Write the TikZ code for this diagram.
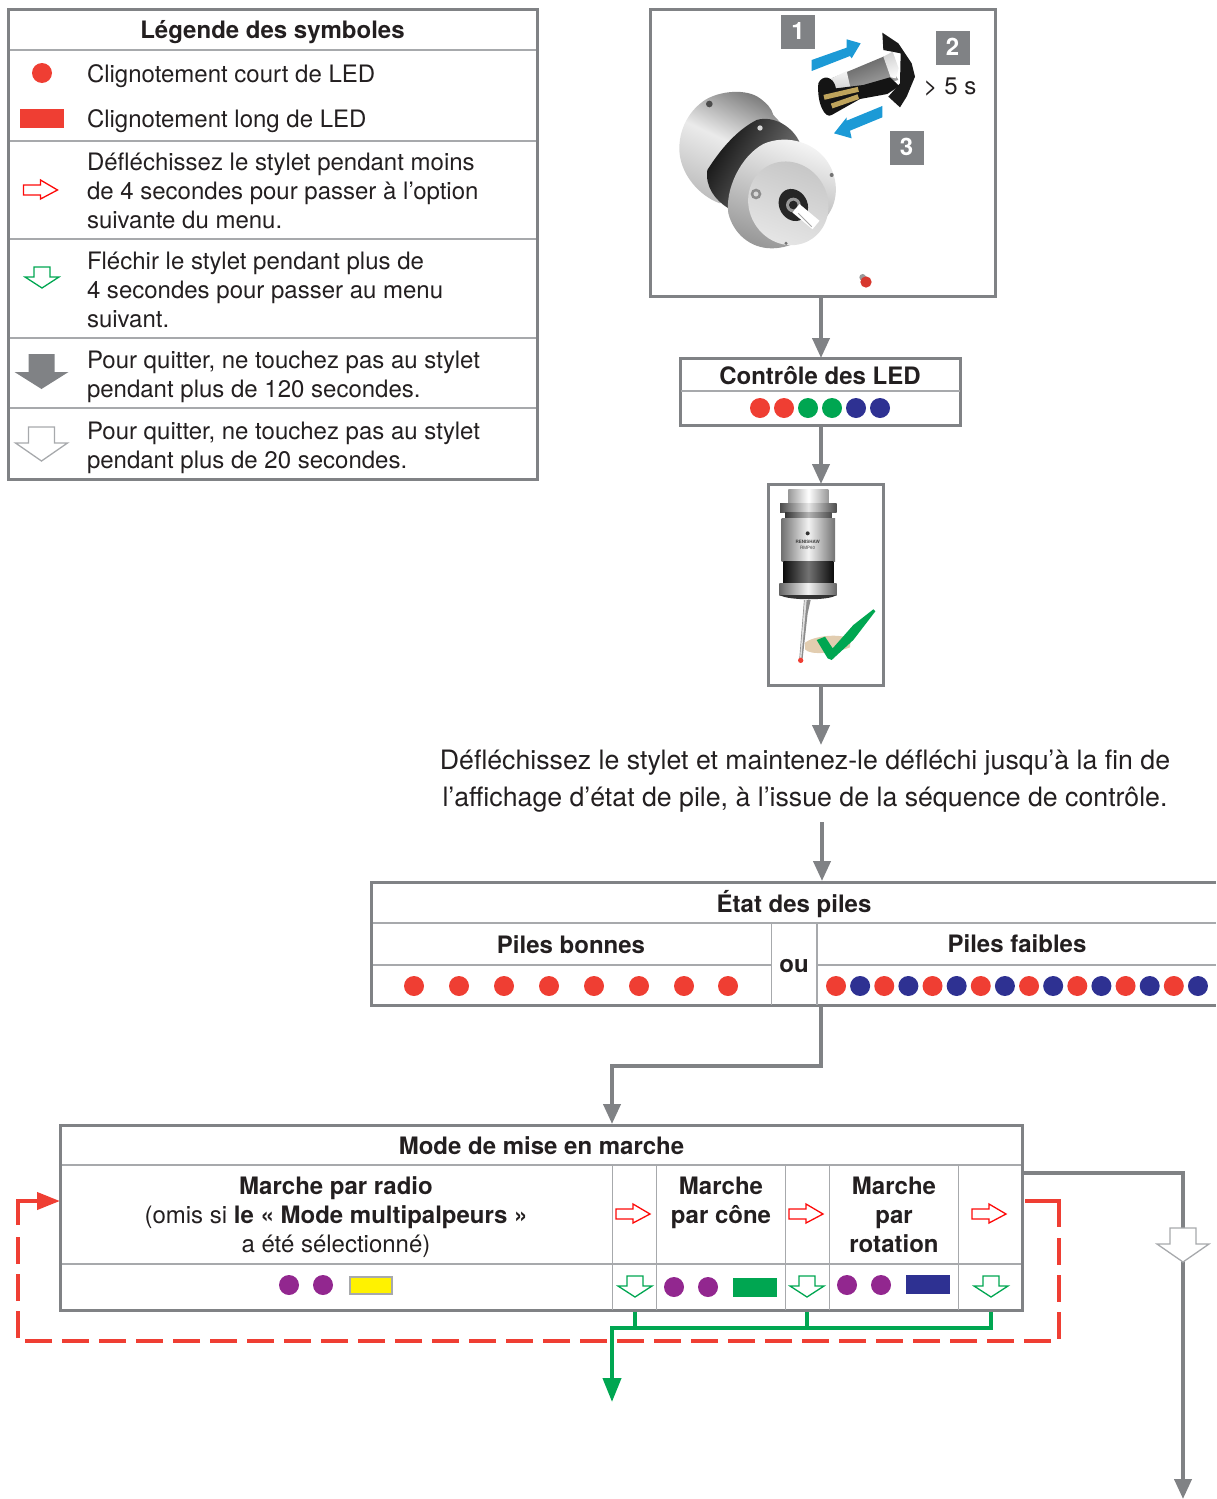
\documentclass[tikz,border=0pt]{standalone}
\usepackage{fontspec}
\setmainfont{TeX Gyre Heros}
\usetikzlibrary{arrows.meta,calc}
\definecolor{ink}{HTML}{231F20}
\definecolor{frameg}{HTML}{808285}
\definecolor{ruleg}{HTML}{A7A9AC}
\definecolor{ledred}{HTML}{EF3E33}
\definecolor{ledgreen}{HTML}{00A651}
\definecolor{ledblue}{HTML}{2E3192}
\definecolor{ledpurple}{HTML}{92278F}
\definecolor{ledyellow}{HTML}{FFF200}
\definecolor{tipblue}{HTML}{1C9AD6}
\definecolor{tagg}{HTML}{808285}
\definecolor{gold}{HTML}{BFA45C}
\definecolor{skin}{HTML}{E2CDB0}
\tikzset{
  x=1pt,y=-1pt,
  every node/.style={inner sep=0pt,outer sep=0pt,text=ink},
  txt/.style={font=\fontsize{24}{29}\selectfont,align=left,anchor=west},
  ctr/.style={font=\fontsize{24}{29}\selectfont,align=center,anchor=center},
  hd/.style={font=\fontsize{24}{29}\selectfont\bfseries,align=center,anchor=center},
  framebox/.style={draw=frameg,line width=3pt,anchor=north west},
  gridl/.style={draw=ruleg,line width=1.6pt},
  flow/.style={draw=frameg,line width=4pt,-{Triangle[length=20pt,width=17pt]}},
  gline/.style={draw=ledgreen,line width=4pt},
  rline/.style={draw=ledred,line width=4pt},
  dot/.style={circle,minimum size=20pt,fill=#1},
  tag/.style={fill=tagg,minimum width=34pt,minimum height=34pt,text=white,font=\fontsize{24}{24}\selectfont\bfseries},
  redarrow/.pic={\path[draw=red!85!ledred,fill=white,line width=1.3pt] (-17,-5)--(0,-5)--(0,-10)--(17,0)--(0,9)--(0,5)--(-17,5)--cycle;},
  greenarrow/.pic={\path[draw=ledgreen,fill=white,line width=1.3pt] (-8,0)--(8,0)--(8,10)--(17,10)--(0,21)--(-17,10)--(-8,10)--cycle;},
  greyarrow/.pic={\path[fill=frameg] (-13,0)--(13,0)--(13,18)--(27,18)--(0,35)--(-27,18)--(-13,18)--cycle;},
  whitearrow/.pic={\path[draw=ruleg,fill=white,line width=1.3pt] (-13,0)--(13,0)--(13,16)--(26,16)--(0,34)--(-26,16)--(-13,16)--cycle;},
}
\begin{document}
\begin{tikzpicture}
\useasboundingbox (0,0) rectangle (1216,1499);
% ---------- legend
\node[framebox,minimum width=529.5pt,minimum height=470.5pt] (legend) at (8,9) {};
\foreach \y in {50,141,239,338,408} \draw[gridl] (9.5,\y)--(536,\y);
\node[hd] (legtitle) at (272.5,32) {Légende des symboles};
\node[dot=ledred] (legdot) at (42,73) {};
\node[fill=ledred,minimum width=44pt,minimum height=19pt] (legrect) at (42,118.5) {};
\node[txt] (leg1) at (87,76) {Clignotement court de LED};
\node[txt] (leg2) at (87,121) {Clignotement long de LED};
\node[txt] (leg3) at (87,191) {Défléchissez le stylet pendant moins\\de 4 secondes pour passer à l’option\\suivante du menu.};
\node[txt] (leg4) at (87,290) {Fléchir le stylet pendant plus de\\4 secondes pour passer au menu\\suivant.};
\node[txt] (leg5) at (87,377) {Pour quitter, ne touchez pas au stylet\\pendant plus de 120 secondes.};
\node[txt] (leg6) at (87,448) {Pour quitter, ne touchez pas au stylet\\pendant plus de 20 secondes.};
\pic at (40.5,190) {redarrow};
\pic at (42,267) {greenarrow};
\pic at (41.5,354) {greyarrow};
\pic at (41.5,427) {whitearrow};
% ---------- battery photo
\node[framebox,minimum width=345.5pt,minimum height=287.5pt] (photo) at (650,9) {};
\begin{scope}[shift={(650,0)},x=0.333333pt,y=-0.333333pt]
  % back body
  \path[left color=black!55,right color=black!25,middle color=black!8,shading angle=-25]
    (165,300) .. controls (210,272) and (290,265) .. (330,295) .. controls (350,310) and (365,325) .. (370,345) -- (440,420) -- (210,610)
    .. controls (150,590) and (85,520) .. (88,440) .. controls (90,380) and (120,330) .. (165,300) -- cycle;
  \fill[black!70] (178,312) circle (10);
  % band
  \path[left color=black!95,right color=black!50,shading angle=60]
    (320,360) .. controls (370,345) and (430,380) .. (450,430) -- (235,625)
    .. controls (195,600) and (165,560) .. (172,510) .. controls (210,450) and (260,390) .. (320,360) -- cycle;
  \fill[black!15] (330,384) circle (8);
  % front cap
  \path[top color=black!3,bottom color=black!40,shading angle=-20]
    (340,432) .. controls (400,405) and (480,420) .. (525,475) .. controls (565,525) and (570,600) .. (530,650)
    .. controls (490,705) and (430,745) .. (365,745) .. controls (300,745) and (250,700) .. (235,640)
    .. controls (225,570) and (270,470) .. (340,432) -- cycle;
  \path[top color=black!22,bottom color=black!10,shading angle=-20,rotate around={30:(415,610)}] (415,610) ellipse (118 and 128);
  \draw[black!45,line width=2.5pt] (318,582) circle (12);
  \fill[black!55] (545,525) circle (6);
  \fill[black!55] (408,730) circle (5);
  \fill[black!85,rotate around={30:(430,615)}] (430,615) ellipse (42 and 50);
  \fill[black!40] (430,615) circle (22);
  \fill[black!85] (430,615) circle (13);
  \draw[white,line width=11pt] (438,625)--(498,675);
  \draw[black!35,line width=1pt] (445,640)--(485,680);
  % LED
  \fill[black!40] (638,832) circle (10);
  \fill[ledred!90!black] (648,846) circle (17);
  % blue arrows
  \fill[tipblue] (485,180)--(590,143)--(590,118)--(632,130)--(605,175)--(600,168)--(485,213)--cycle;
  \fill[tipblue] (697,318)--(697,352)--(600,392)--(605,415)--(552,400)--(590,352)--(590,362)--cycle;
  % battery
  \fill[black!90] (697,98)--(745,130)--(785,190)--(795,230)--(770,290)--(750,322)--(715,290)--(750,250)--(752,160)--(700,150)--cycle;
  \path[left color=black!65,right color=black!30,shading angle=20] (545,235)--(705,168)--(745,240)--(572,290)--cycle;
  \path[left color=black!18,right color=black!2,shading angle=20] (700,170)--(728,155)--(746,205)--(738,235)--(722,232)--cycle;
  \path[top color=black!4,bottom color=black!22] (545,235)--(590,213)--(605,280)--(570,288)--cycle;
  \fill[black!92] (505,250) .. controls (515,225) and (550,225) .. (558,265) -- (640,255) -- (720,232) -- (748,258) -- (712,282) -- (630,297) -- (545,345)
     .. controls (525,358) and (500,310) .. (505,250) -- cycle;
  \draw[gold,line width=5pt] (522,292)--(625,268);
  \draw[gold,line width=5pt] (545,318)--(625,290);
\end{scope}
\node[tag] (t1) at (798,32) {\raisebox{1.5pt}{1}};
\node[tag] (t2) at (952.5,47.5) {\raisebox{1.5pt}{2}};
\node[tag] (t3) at (906.5,147.5) {\raisebox{1.5pt}{3}};
\node[ctr] (gt5) at (950,87) {> 5 s};
% ---------- LED check
\node[framebox,minimum width=280.5pt,minimum height=67.5pt] (ctrl) at (680,358) {};
\draw[gridl] (681,391)--(960,391);
\node[hd] (ctrlt) at (820,376) {Contrôle des LED};
\foreach \x/\c [count=\i] in {760/ledred,784/ledred,808/ledgreen,832/ledgreen,856/ledblue,880/ledblue}
  \node[dot=\c] (cd\i) at (\x,408) {};
% ---------- probe photo
\node[framebox,minimum width=115.5pt,minimum height=201.5pt] (probe) at (768,484) {};
\begin{scope}[shift={(760,480)},x=0.333333pt,y=-0.333333pt]
  \path[left color=black!40,right color=black!40,middle color=white] (85,28)--(205,28)--(205,72)--(85,72)--cycle;
  \path[left color=black!70,right color=black!70,middle color=black!10] (60,70) rectangle (230,97);
  \path[left color=black!80,right color=black!70,middle color=black!30] (75,97) rectangle (215,116);
  \path[left color=black!55,right color=black!55,middle color=black!5] (65,116) rectangle (225,245);
  \fill[black!80] (143,160) circle (6);
  \path[left color=black!95,right color=black!95,middle color=black!55] (70,245) rectangle (220,310);
  \path[left color=black!60,right color=black!60,middle color=black!5] (58,310) rectangle (230,345);
  \fill[black!80] (60,345) -- (228,345) .. controls (215,362) and (80,362) .. (60,345) -- cycle;
  \node[font=\fontsize{4.5}{5}\selectfont\bfseries,text=black!75] (ren) at (143,187) {RENISHAW};
  \node[font=\fontsize{4.5}{5}\selectfont,text=black!75] (rmp) at (143,205) {RMP60};
  \fill[black!45] (132,360)--(152,360)--(143,400)--(128,535)--(118,535)--cycle;
  \fill[black!12] (134,360)--(140,360)--(124,535)--(120,535)--cycle;
  \fill[skin] (135,488) .. controls (160,468) and (240,458) .. (272,478) -- (270,502) .. controls (230,518) and (150,528) .. (135,508) -- cycle;
  \fill[ledred] (122,541) circle (8);
  \fill[ledgreen] (170,480)--(195,470)--(218,505)--(280,435)--(340,388)--(346,394)--(280,480)--(215,540)--(203,535)--cycle;
\end{scope}
% ---------- instruction
\node[ctr,font=\fontsize{26.7}{37}\selectfont] (instr) at (805,781) {Défléchissez le stylet et maintenez-le défléchi jusqu’à la fin de\\l’affichage d’état de pile, à l’issue de la séquence de contrôle.};
% ---------- battery state
\node[anchor=north west,minimum width=845pt,minimum height=123.5pt] (etat) at (371,882) {};
\draw[draw=frameg,line width=3pt] (1216,882)--(etat.north west)--(etat.south west)--(1216,1005.5);
\draw[gridl] (372.5,923)--(1216,923);
\draw[gridl] (372.5,965)--(771,965);
\draw[gridl] (817,965)--(1216,965);
\draw[gridl] (771.5,923)--(771.5,1005);
\draw[gridl] (817,923)--(817,1005);
\node[hd] (etatt) at (794,904) {État des piles};
\node[hd] (pb) at (571,945) {Piles bonnes};
\node[hd] (ou) at (794,966) {ou};
\node[hd] (pf) at (1017,944) {Piles faibles};
\foreach \x [count=\i] in {414,459,504,549,594,639,684,728} \node[dot=ledred] (g\i) at (\x,986) {};
\foreach \i in {0,...,15}{
  \pgfmathtruncatemacro{\dotodd}{mod(\i,2)}
  \ifnum\dotodd=0 \def\cc{ledred}\else\def\cc{ledblue}\fi
  \node[dot=\cc] (f\i) at ({836+\i*24.13},986) {};
}
% ---------- power-on mode
\node[framebox,minimum width=962.5pt,minimum height=185.5pt] (mode) at (60,1125) {};
\draw[gridl] (61.5,1165)--(1021,1165);
\draw[gridl] (61.5,1264)--(1021,1264);
\foreach \x in {612.5,656.5,785.5,829.5,958.5} \draw[gridl] (\x,1165)--(\x,1309.5);
\node[hd] (modet) at (541.5,1146) {Mode de mise en marche};
\node[ctr] (radio) at (336,1217) {\textbf{Marche par radio}\\(omis si \textbf{le « Mode multipalpeurs »}\\a été sélectionné)};
\node[hd] (cone) at (721,1203) {Marche\\par cône};
\node[hd] (rota) at (894,1215) {Marche\\par\\rotation};
\node[dot=ledpurple] (p1) at (289,1285) {};
\node[dot=ledpurple] (p2) at (323,1285) {};
\node[draw=ruleg,line width=2pt,fill=ledyellow,minimum width=42pt,minimum height=17pt] (ry) at (371,1285) {};
\node[dot=ledpurple] (p3) at (674,1287) {};
\node[dot=ledpurple] (p4) at (708,1287) {};
\node[fill=ledgreen,minimum width=44pt,minimum height=19pt] (rg) at (755,1287.5) {};
\node[dot=ledpurple] (p5) at (847,1285) {};
\node[dot=ledpurple] (p6) at (881,1285) {};
\node[fill=ledblue,minimum width=44pt,minimum height=19pt] (rb) at (928,1284.5) {};
\pic at (633,1214) {redarrow};
\pic at (806,1214) {redarrow};
\pic at (989,1214) {redarrow};
\pic at (635,1276) {greenarrow};
\pic at (807,1276) {greenarrow};
\pic at (991,1276) {greenarrow};
% ---------- connectors
\coordinate (instrIn) at (821,745);
\coordinate (instrOut) at (822,822);
\coordinate (etatIn) at (822,881);
\coordinate (etatOut) at (821,1007);
\coordinate (modeIn) at (612,1124);
\draw[flow] (photo.south -| 821,0) -- (ctrl.north -| 821,0);
\draw[flow] (ctrl.south -| 821,0) -- (probe.north -| 821,0);
\draw[flow] (probe.south -| 821,0) -- (instrIn);
\draw[flow] (instrOut) -- (etatIn);
\draw[flow] (etatOut) -- (821,1066) -- (612,1066) -- (modeIn);
% grey exit
\coordinate (exitA) at (1024,1173);
\coordinate (exitB) at (1183,1499);
\draw[flow] (exitA) -| (exitB);
\pic at (1183,1228) {whitearrow};
% green exit
\coordinate (gs1) at (635,1312);
\coordinate (gs2) at (807,1312);
\coordinate (gs3) at (991,1312);
\coordinate (gEnd) at (612,1402);
\draw[gline] (gs1) -- (635,1328);
\draw[gline] (gs2) -- (807,1328);
% red loop
\coordinate (rA) at (1025,1201);
\coordinate (rB) at (60,1201);
\draw[rline] (rA) -- (1059,1201) -- (1059,1227);
\draw[rline,dash pattern=on 27pt off 10pt] (1059,1238) -- (1059,1341) -- (18,1341) -- (18,1237);
\draw[rline,-{Triangle[length=23pt,width=17pt]}] (18,1225) -- (18,1201) -- (rB);
\draw[gline,-{Triangle[length=24pt,width=18pt]}] (gs3) -- (991,1328) -- (612,1328) -- (gEnd);
\end{tikzpicture}
\end{document}
